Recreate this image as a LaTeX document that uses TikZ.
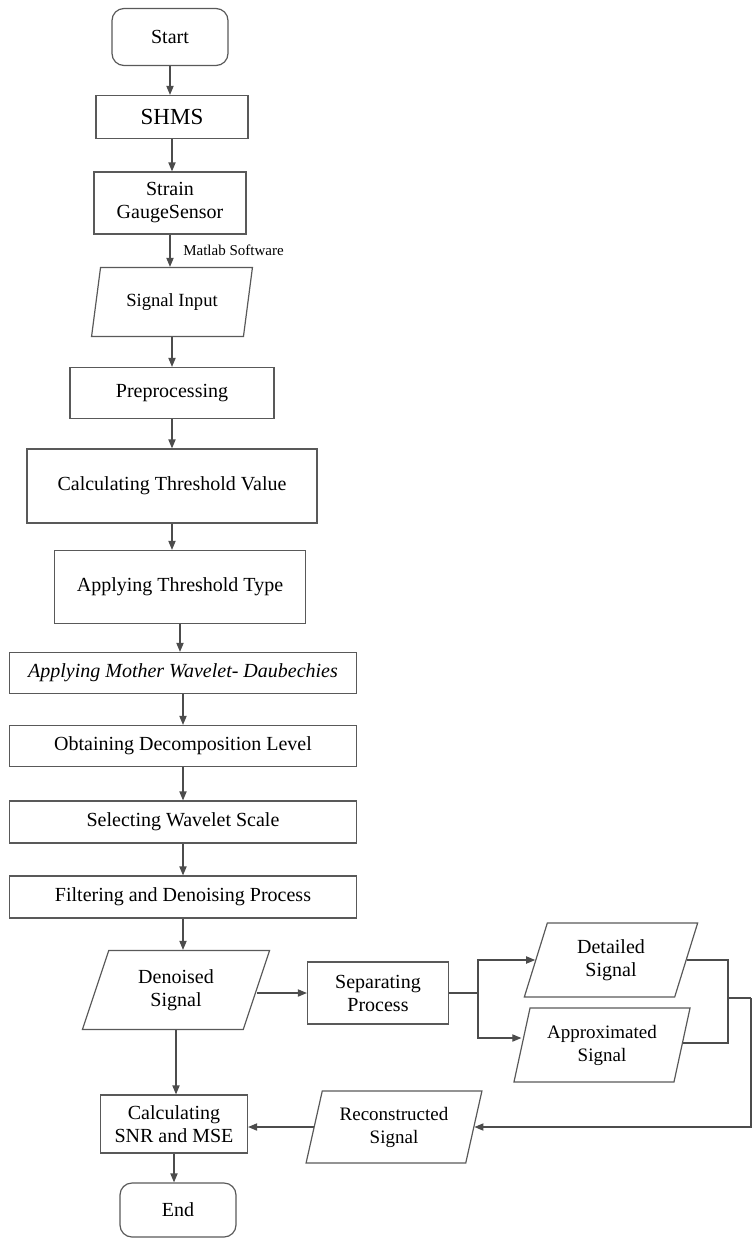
\documentclass[tikz,border=0pt]{standalone}
\usepackage{fontspec}
\setmainfont{Liberation Serif}
\usetikzlibrary{shapes.geometric, arrows.meta}

\begin{document}
\begin{tikzpicture}[x=0.5pt, y=-0.5pt,
    box/.style={draw=black!65, line width=0.6pt, rectangle, align=center, inner sep=1pt,
        font=\fontsize{10}{11.5}\selectfont},
    term/.style={box, rounded corners=6pt},
    io/.style={box, trapezium, trapezium left angle=74, trapezium right angle=106,
        trapezium stretches=true},
    link/.style={draw=black!70, line width=0.6pt},
    arr/.style={link, -{Triangle[length=4.5pt,width=3.6pt]}}]
    \useasboundingbox (0,0) rectangle (753,1238);

    % main column
    \node[term, minimum width=58pt, minimum height=28.5pt] (start) at (170,37) {Start};
    \node[box, minimum width=76pt, minimum height=21.5pt, font=\fontsize{11.5}{13}\selectfont] (shms) at (172,117) {SHMS};
    \node[box, minimum width=76pt, minimum height=31pt] (sensor) at (170,203) {Strain\\GaugeSensor};
    \node[io, minimum width=80.5pt, minimum height=34.5pt, font=\fontsize{9.3}{11}\selectfont] (input) at (172,302) {Signal Input};
    \node[box, minimum width=102pt, minimum height=25.5pt] (prep) at (172,393) {Preprocessing};
    \node[box, minimum width=145pt, minimum height=37pt] (thval) at (172,486) {Calculating Threshold Value};
    \node[box, minimum width=125.5pt, minimum height=36.5pt] (thtype) at (180,587) {Applying Threshold Type};
    \node[box, minimum width=173.5pt, minimum height=20.5pt] (mother) at (183,673) {\itshape Applying Mother Wavelet- Daubechies};
    \node[box, minimum width=173.5pt, minimum height=20.5pt] (level) at (183,746) {Obtaining Decomposition Level};
    \node[box, minimum width=173.5pt, minimum height=21pt] (scale) at (183,822) {Selecting Wavelet Scale};
    \node[box, minimum width=173.5pt, minimum height=21pt] (filter) at (183,897) {Filtering and Denoising Process};
    \node[io, trapezium left angle=71, trapezium right angle=109, minimum width=94pt, minimum height=39.5pt] (denoised) at (176,990) {Denoised\\Signal};
    \node[box, minimum width=73.5pt, minimum height=29pt] (snr) at (174,1124) {Calculating\\SNR and MSE};
    \node[term, minimum width=58pt, minimum height=27pt] (end) at (178,1210) {End};

    % side branch
    \node[box, minimum width=70.5pt, minimum height=31pt] (separ) at (378,993) {Separating\\Process};
    \node[io, minimum width=87pt, minimum height=37pt] (detail) at (611,960) {Detailed\\Signal};
    \node[io, minimum width=88.5pt, minimum height=37pt, font=\fontsize{9.5}{11.5}\selectfont] (approx) at (602,1045) {Approximated\\Signal};
    \node[io, minimum width=88.5pt, minimum height=36pt, font=\fontsize{9.5}{11.5}\selectfont] (recon) at (394,1127) {Reconstructed\\Signal};

    \coordinate (fork) at (478,993);
    \coordinate (join) at (728,998);
    \coordinate (edge) at (751,998);

    % connectors
    \draw[arr] (start.south) -- (start.south |- shms.north);
    \draw[arr] (shms.south) -- (shms.south |- sensor.north);
    \draw[arr] (sensor.south) -- (sensor.south |- input.north)
        node[midway, right=3pt, font=\fontsize{7.5}{9}\selectfont] {Matlab Software};
    \draw[arr] (input.south) -- (input.south |- prep.north);
    \draw[arr] (prep.south) -- (prep.south |- thval.north);
    \draw[arr] (thval.south) -- (thval.south |- thtype.north);
    \draw[arr] (thtype.south) -- (thtype.south |- mother.north);
    \draw[arr] (mother.south) -- (mother.south |- level.north);
    \draw[arr] (level.south) -- (level.south |- scale.north);
    \draw[arr] (scale.south) -- (scale.south |- filter.north);
    \draw[arr] (filter.south) -- (filter.south |- denoised.north);
    \draw[arr] (denoised.south) -- (denoised.south |- snr.north);
    \draw[arr] (snr.south) -- (snr.south |- end.north);

    \draw[arr] (separ.west -| denoised.east) -- (separ.west);
    \draw[link] (separ.east) -- (fork);
    \draw[arr] (fork) |- (detail.west);
    \draw[arr] (fork) |- ([yshift=3.5pt]approx.west);
    \draw[link] (detail.east) -| (join);
    \draw[link] ([yshift=1pt]approx.east) -| (join);
    \draw[link] (join) -- (edge);
    \draw[arr] (edge) |- (recon.east);
    \draw[arr] (recon.west) -- (recon.west -| snr.east);
\end{tikzpicture}
\end{document}
